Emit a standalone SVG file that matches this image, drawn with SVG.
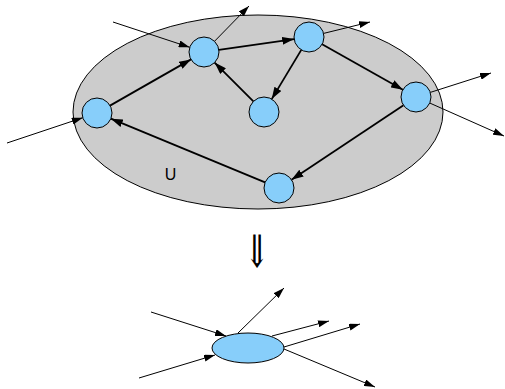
<svg xmlns="http://www.w3.org/2000/svg" width="505" height="389" viewBox="0 0 505 389">
<style>
.node{fill:#87cefa;stroke:#000;stroke-width:1}
.thick{stroke:#000;stroke-width:1.8;fill:none;marker-end:url(#ah)}
.thin{stroke:#000;stroke-width:1;fill:none;marker-end:url(#as)}
.lbl{font-family:"Liberation Sans",Arial,sans-serif;font-size:16px;fill:#000}
</style>
<defs>
<marker id="ah" markerUnits="userSpaceOnUse" markerWidth="12" markerHeight="8" refX="12" refY="4" orient="auto"><path d="M0,0 L12,4 L0,8 z" fill="#000"/></marker>
<marker id="as" markerUnits="userSpaceOnUse" markerWidth="11" markerHeight="7" refX="11" refY="3.5" orient="auto"><path d="M0,0 L11,3.5 L0,7 z" fill="#000"/></marker>
</defs>
<g id="region">
<ellipse cx="258" cy="112" rx="185" ry="97" fill="#cccccc" stroke="#000" stroke-width="1"/>
<text class="lbl" x="170.5" y="180" text-anchor="middle">U</text>
</g>
<g id="connectors">
<line class="thick" x1="110" y1="105.6" x2="191" y2="59.4"/>
<line class="thick" x1="218.9" y1="49.9" x2="294.2" y2="39.1"/>
<line class="thick" x1="253.4" y1="101.4" x2="214.6" y2="62.6"/>
<line class="thick" x1="301.3" y1="49.9" x2="271.7" y2="99.1"/>
<line class="thick" x1="322.1" y1="44.3" x2="402.9" y2="89.7"/>
<line class="thick" x1="403.5" y1="105.3" x2="291.5" y2="179.7"/>
<line class="thick" x1="265.1" y1="182.3" x2="110.9" y2="118.7"/>
<line class="thin" x1="113" y1="22" x2="189.7" y2="47.3"/>
<line class="thin" x1="214.5" y1="41.3" x2="249" y2="6"/>
<line class="thin" x1="7" y1="143" x2="82.8" y2="117.7"/>
<line class="thin" x1="323.6" y1="33.4" x2="370" y2="22"/>
<line class="thin" x1="430.3" y1="92.4" x2="491" y2="73"/>
<line class="thin" x1="429.7" y1="103" x2="504" y2="136"/>
<line class="thin" x1="151" y1="312" x2="226" y2="336"/>
<line class="thin" x1="139" y1="378" x2="215" y2="355"/>
<line class="thin" x1="238" y1="333" x2="284" y2="288"/>
<line class="thin" x1="272" y1="336" x2="329" y2="321"/>
<line class="thin" x1="284" y1="347" x2="360" y2="324"/>
<line class="thin" x1="284" y1="349" x2="375" y2="387"/>
</g>
<g id="nA"><circle class="node" cx="97" cy="113" r="15"/></g>
<g id="nB"><circle class="node" cx="204" cy="52" r="15"/></g>
<g id="nC"><circle class="node" cx="309" cy="37" r="15"/></g>
<g id="nD"><circle class="node" cx="264" cy="112" r="15"/></g>
<g id="nE"><circle class="node" cx="416" cy="97" r="15"/></g>
<g id="nF"><circle class="node" cx="279" cy="188" r="15"/></g>
<g id="implies"><text transform="translate(257,267) scale(1,1.5)" text-anchor="middle" font-family="Liberation Serif, DejaVu Serif, serif" font-size="30">⇓</text></g>
<g id="collapsed"><ellipse class="node" cx="248" cy="348" rx="36" ry="15"/></g>
</svg>
